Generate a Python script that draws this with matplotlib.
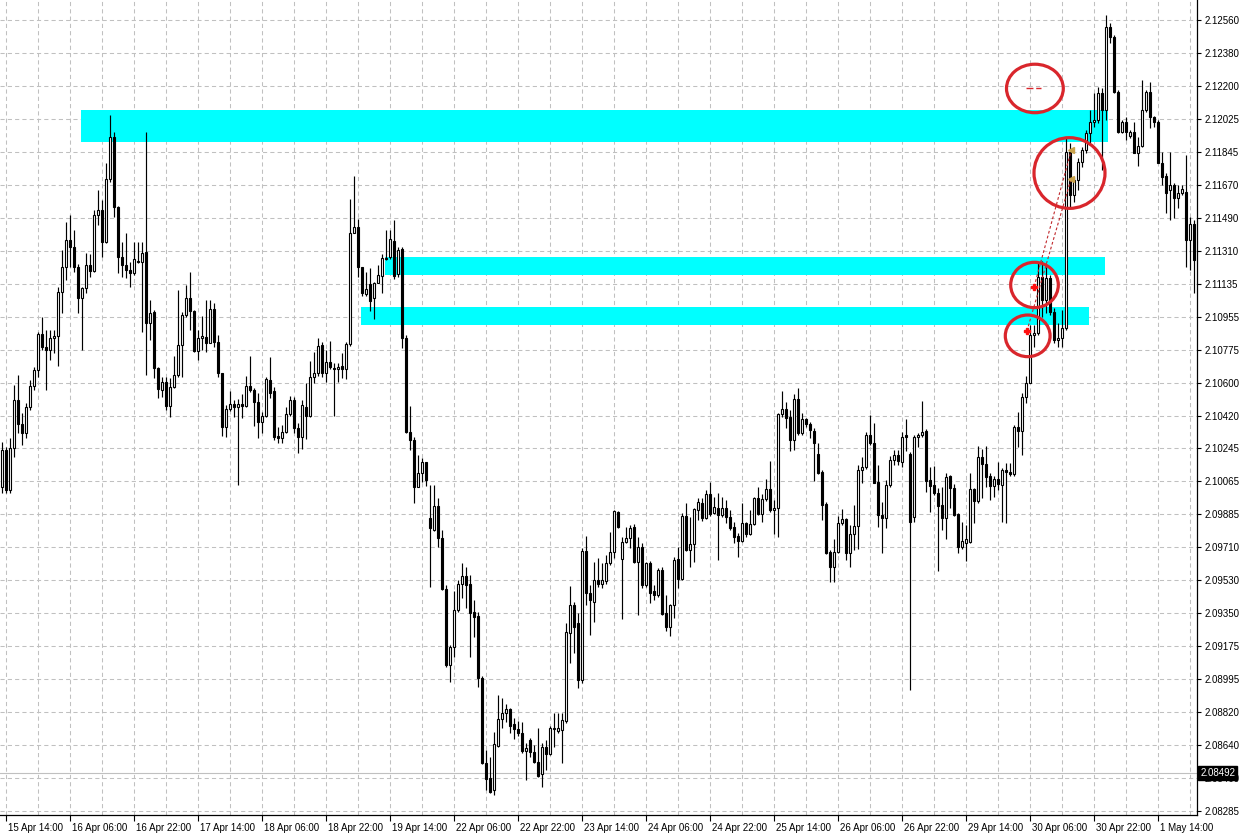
import numpy as np
import matplotlib
matplotlib.use('Agg')
import matplotlib.pyplot as plt
from matplotlib.patches import Rectangle, Ellipse
import matplotlib.transforms as mtransforms

# ---------------- data (H1 candles) ----------------
opens = [
2.10038,2.10236,2.10020,2.10245,2.10507,2.10377,2.10330,2.10467,2.10582,2.10669,
2.10863,2.10795,2.10777,2.10840,2.10854,2.11089,2.11224,2.11371,2.11335,2.11224,
2.11056,2.11110,2.11234,2.11206,2.11506,2.11533,2.11362,2.11699,2.11926,2.11552,
2.11278,2.11236,2.11209,2.11195,2.11260,2.11254,2.11305,2.10925,2.10984,2.10678,
2.10561,2.10606,2.10474,2.10579,2.10642,2.10804,2.10966,2.11060,2.10988,2.10773,
2.10840,2.10848,2.10816,2.10996,2.10821,2.10650,2.10358,2.10456,2.10483,2.10466,
2.10483,2.10475,2.10582,2.10560,2.10494,2.10389,2.10422,2.10614,2.10555,2.10311,
2.10302,2.10335,2.10429,2.10506,2.10353,2.10308,2.10466,2.10420,2.10629,2.10650,
2.10803,2.10654,2.10710,2.10679,2.10672,2.10690,2.10675,2.10807,2.11407,2.11443,
2.11223,2.11079,2.11131,2.11055,2.11140,2.11176,2.11275,2.11277,2.11365,2.11187,
2.11320,2.10840,2.10335,2.10290,2.10038,2.10114,2.10170,2.09867,2.09804,2.09934,
2.09759,2.09483,2.09074,2.09173,2.09372,2.09512,2.09555,2.09512,2.09363,2.09339,
2.09002,2.08543,2.08462,2.08399,2.08637,2.08781,2.08813,2.08835,2.08755,2.08727,
2.08705,2.08611,2.08669,2.08606,2.08552,2.08485,2.08629,2.08593,2.08728,2.08719,
2.08723,2.08773,2.09245,2.09398,2.09299,2.08993,2.09692,2.09461,2.09416,2.09533,
2.09512,2.09530,2.09627,2.09686,2.09901,2.09645,2.09737,2.09758,2.09821,2.09632,
2.09713,2.09506,2.09627,2.09476,2.09452,2.09587,2.09353,2.09278,2.09397,2.09645,
2.09537,2.09879,2.09696,2.09728,2.09912,2.09948,2.09867,2.09997,2.09897,2.09921,
2.09885,2.09924,2.09876,2.09821,2.09771,2.09746,2.09843,2.09782,2.09836,2.09975,
2.09890,2.09970,2.10024,2.09912,2.09921,2.10431,2.10456,2.10413,2.10290,2.10510,
2.10326,2.10402,2.10375,2.10340,2.10214,2.10119,2.09944,2.09686,2.09602,2.09686,
2.09839,2.09861,2.09681,2.09782,2.09825,2.10128,2.10142,2.10317,2.10272,2.10065,
2.09884,2.09866,2.10047,2.10182,2.10209,2.10173,2.10317,2.10214,2.09872,2.10308,
2.10317,2.10340,2.10074,2.10047,2.10002,2.09939,2.09866,2.10095,2.10029,2.09890,
2.09710,2.09735,2.09740,2.10023,2.09962,2.10196,2.10160,2.10095,2.10041,2.10077,
2.10047,2.10128,2.10119,2.10106,2.10362,2.10341,2.10521,2.10600,2.10858,2.10870,
2.11173,2.11047,2.11164,2.10984,2.10831,2.10840,2.10894,2.11848,2.11614,2.11695,
2.11794,2.11857,2.11947,2.12011,2.12020,2.12164,2.12074,2.12524,2.12470,2.12173,
2.11957,2.12011,2.11933,2.11957,2.11843,2.11879,2.12074,2.12173,2.12034,2.12011,
2.11789,2.11717,2.11641,2.11668,2.11596,2.11627,2.11632,2.11371,2.11457]

highs = [
2.10281,2.10254,2.10299,2.10588,2.10642,2.10435,2.10489,2.10615,2.10687,2.10876,
2.10957,2.10885,2.10885,2.10885,2.11119,2.11317,2.11470,2.11506,2.11425,2.11242,
2.11119,2.11299,2.11296,2.11533,2.11642,2.11588,2.11786,2.12047,2.11957,2.11557,
2.11362,2.11407,2.11254,2.11362,2.11362,2.11362,2.11957,2.11047,2.10993,2.10683,
2.10633,2.10633,2.10624,2.10745,2.11101,2.10984,2.11128,2.11200,2.10993,2.10885,
2.10960,2.11046,2.11046,2.11032,2.10857,2.10650,2.10479,2.10557,2.10506,2.10513,
2.10538,2.10636,2.10744,2.10569,2.10542,2.10443,2.10632,2.10740,2.10578,2.10362,
2.10371,2.10470,2.10528,2.10521,2.10380,2.10506,2.10600,2.10717,2.10767,2.10839,
2.10821,2.10776,2.10827,2.10708,2.10704,2.10758,2.10818,2.11592,2.11717,2.11482,
2.11223,2.11200,2.11218,2.11146,2.11236,2.11295,2.11425,2.11425,2.11479,2.11335,
2.11335,2.10858,2.10474,2.10308,2.10209,2.10191,2.10173,2.10047,2.10047,2.09975,
2.09804,2.09507,2.09182,2.09474,2.09534,2.09624,2.09606,2.09561,2.09426,2.09363,
2.09015,2.08615,2.08579,2.08714,2.08912,2.08894,2.08862,2.08840,2.08786,2.08774,
2.08768,2.08651,2.08678,2.08642,2.08732,2.08651,2.08669,2.08745,2.08817,2.08813,
2.08817,2.09299,2.09501,2.09416,2.09353,2.09705,2.09771,2.09506,2.09632,2.09650,
2.09623,2.09668,2.09794,2.09911,2.09904,2.09767,2.09821,2.09830,2.09836,2.09767,
2.09731,2.09632,2.09636,2.09506,2.09596,2.09602,2.09452,2.09402,2.09660,2.09714,
2.09897,2.09948,2.09876,2.09924,2.09975,2.09975,2.10020,2.10065,2.09984,2.10002,
2.09980,2.09966,2.09912,2.09849,2.09786,2.09951,2.09849,2.09912,2.09984,2.10038,
2.09997,2.10078,2.10177,2.09966,2.10434,2.10555,2.10494,2.10452,2.10539,2.10569,
2.10434,2.10407,2.10389,2.10353,2.10272,2.10128,2.09957,2.09695,2.09753,2.09879,
2.09915,2.09866,2.09830,2.09939,2.10155,2.10200,2.10335,2.10425,2.10380,2.10155,
2.09957,2.10074,2.10204,2.10236,2.10236,2.10335,2.10402,2.10227,2.10317,2.10330,
2.10502,2.10347,2.10142,2.10149,2.10029,2.10038,2.10110,2.10101,2.10052,2.09893,
2.09848,2.09830,2.10113,2.10029,2.10258,2.10239,2.10258,2.10113,2.10095,2.10173,
2.10137,2.10164,2.10164,2.10371,2.10443,2.10542,2.10636,2.10912,2.10912,2.11245,
2.11259,2.11227,2.11182,2.11002,2.10921,2.10993,2.11920,2.11893,2.11713,2.11812,
2.11875,2.11966,2.12074,2.12164,2.12200,2.12191,2.12587,2.12542,2.12479,2.12182,
2.12020,2.12034,2.11966,2.12011,2.11929,2.12236,2.12182,2.12227,2.12041,2.12020,
2.11848,2.11731,2.11848,2.11677,2.11668,2.11668,2.11830,2.11497,2.11479]

lows = [
2.10002,2.10002,2.10002,2.10200,2.10326,2.10263,2.10299,2.10453,2.10561,2.10633,
2.10777,2.10561,2.10723,2.10759,2.10690,2.10975,2.11155,2.11227,2.11200,2.10979,
2.10777,2.11087,2.11173,2.11200,2.11452,2.11278,2.11353,2.11687,2.11497,2.11191,
2.11173,2.11164,2.11119,2.11182,2.11249,2.10876,2.10642,2.10831,2.10624,2.10516,
2.10525,2.10453,2.10417,2.10570,2.10633,2.10633,2.10957,2.10885,2.10768,2.10723,
2.10776,2.10767,2.10812,2.10794,2.10632,2.10311,2.10308,2.10448,2.10412,2.10047,
2.10407,2.10466,2.10551,2.10366,2.10299,2.10330,2.10412,2.10515,2.10290,2.10275,
2.10272,2.10326,2.10420,2.10326,2.10222,2.10240,2.10294,2.10412,2.10596,2.10636,
2.10629,2.10605,2.10672,2.10420,2.10605,2.10623,2.10618,2.10798,2.11407,2.11169,
2.11068,2.11068,2.10989,2.10946,2.11137,2.11086,2.11263,2.11266,2.11158,2.11173,
2.10786,2.10326,2.10236,2.09952,2.10035,2.10065,2.10042,2.09498,2.09800,2.09714,
2.09480,2.09065,2.08984,2.09119,2.09363,2.09435,2.09381,2.09116,2.09228,2.08957,
2.08539,2.08399,2.08384,2.08372,2.08633,2.08732,2.08768,2.08705,2.08673,2.08691,
2.08597,2.08453,2.08579,2.08543,2.08471,2.08413,2.08507,2.08588,2.08633,2.08705,
2.08543,2.08759,2.09083,2.09137,2.08948,2.08975,2.09398,2.09236,2.09308,2.09497,
2.09488,2.09512,2.09614,2.09650,2.09812,2.09321,2.09731,2.09704,2.09627,2.09344,
2.09488,2.09497,2.09411,2.09425,2.09443,2.09344,2.09259,2.09231,2.09326,2.09488,
2.09533,2.09692,2.09606,2.09632,2.09858,2.09854,2.09861,2.09879,2.09890,2.09642,
2.09872,2.09840,2.09804,2.09732,2.09660,2.09741,2.09764,2.09777,2.09831,2.09885,
2.09849,2.09962,2.09903,2.09782,2.09768,2.10416,2.10353,2.10232,2.10236,2.10317,
2.10317,2.10362,2.10299,2.10070,2.10106,2.09857,2.09674,2.09524,2.09524,2.09677,
2.09830,2.09641,2.09605,2.09695,2.09699,2.10059,2.10131,2.10263,2.10056,2.09818,
2.09677,2.09812,2.10038,2.10155,2.10155,2.10146,2.10232,2.08939,2.09848,2.10250,
2.10308,2.10011,2.09903,2.09993,2.09584,2.09803,2.09753,2.09921,2.09879,2.09677,
2.09699,2.09638,2.09735,2.09839,2.09951,2.09975,2.10034,2.09966,2.09984,2.10020,
2.09848,2.09840,2.10096,2.10096,2.10254,2.10209,2.10488,2.10596,2.10791,2.10858,
2.10957,2.10975,2.10966,2.10813,2.10795,2.10795,2.10885,2.11551,2.11578,2.11641,
2.11767,2.11839,2.11893,2.11984,2.12002,2.11749,2.12020,2.12434,2.12164,2.11951,
2.11947,2.11911,2.11920,2.11839,2.11771,2.11875,2.12065,2.11975,2.11984,2.11785,
2.11668,2.11515,2.11479,2.11488,2.11542,2.11614,2.11227,2.11209,2.11083]

closes = [
2.10236,2.10020,2.10245,2.10507,2.10377,2.10330,2.10467,2.10582,2.10669,2.10863,
2.10795,2.10777,2.10840,2.10854,2.11089,2.11224,2.11371,2.11335,2.11224,2.11060,
2.11110,2.11234,2.11206,2.11506,2.11533,2.11362,2.11699,2.11926,2.11552,2.11278,
2.11236,2.11209,2.11195,2.11267,2.11254,2.11299,2.10925,2.10975,2.10678,2.10564,
2.10606,2.10474,2.10579,2.10642,2.10804,2.10966,2.11060,2.10988,2.10773,2.10840,
2.10852,2.10816,2.10996,2.10821,2.10650,2.10358,2.10456,2.10483,2.10466,2.10483,
2.10475,2.10582,2.10560,2.10494,2.10389,2.10422,2.10620,2.10542,2.10308,2.10302,
2.10335,2.10429,2.10506,2.10353,2.10308,2.10477,2.10420,2.10629,2.10650,2.10798,
2.10654,2.10710,2.10683,2.10672,2.10686,2.10675,2.10807,2.11407,2.11443,2.11227,
2.11086,2.11104,2.11041,2.11140,2.11180,2.11272,2.11266,2.11374,2.11176,2.11317,
2.10840,2.10335,2.10290,2.10038,2.10114,2.10170,2.10074,2.09817,2.09934,2.09759,
2.09483,2.09074,2.09173,2.09372,2.09512,2.09555,2.09507,2.09357,2.09336,2.09002,
2.08543,2.08456,2.08390,2.08646,2.08781,2.08813,2.08835,2.08745,2.08727,2.08705,
2.08611,2.08624,2.08606,2.08552,2.08475,2.08629,2.08593,2.08736,2.08736,2.08732,
2.08777,2.09251,2.09398,2.09281,2.08993,2.09692,2.09461,2.09425,2.09533,2.09512,
2.09533,2.09627,2.09686,2.09906,2.09821,2.09737,2.09758,2.09816,2.09632,2.09713,
2.09506,2.09627,2.09461,2.09452,2.09587,2.09350,2.09281,2.09397,2.09642,2.09537,
2.09879,2.09696,2.09728,2.09915,2.09955,2.09867,2.09997,2.09890,2.09930,2.09885,
2.09921,2.09872,2.09816,2.09768,2.09746,2.09840,2.09782,2.09836,2.09975,2.09890,
2.09970,2.10024,2.09912,2.09921,2.10431,2.10456,2.10407,2.10290,2.10510,2.10326,
2.10402,2.10375,2.10344,2.10272,2.10113,2.09939,2.09681,2.09602,2.09686,2.09843,
2.09861,2.09681,2.09782,2.09825,2.10128,2.10142,2.10317,2.10272,2.10059,2.09884,
2.09866,2.10047,2.10182,2.10209,2.10178,2.10304,2.10304,2.09848,2.10304,2.10317,
2.10335,2.10070,2.10041,2.10002,2.09933,2.09866,2.10092,2.10029,2.09884,2.09710,
2.09746,2.09753,2.10023,2.09962,2.10196,2.10160,2.10092,2.10041,2.10077,2.10052,
2.10128,2.10119,2.10106,2.10362,2.10341,2.10524,2.10600,2.10858,2.10870,2.11173,
2.11047,2.11164,2.10984,2.10831,2.10840,2.10894,2.11848,2.11614,2.11695,2.11794,
2.11857,2.11947,2.12011,2.12020,2.12164,2.12074,2.12524,2.12470,2.12173,2.11957,
2.12011,2.11957,2.11957,2.11843,2.11879,2.12074,2.12173,2.12034,2.12011,2.11789,
2.11713,2.11627,2.11668,2.11596,2.11627,2.11645,2.11371,2.11457,2.11263]

time_labels = ['15 Apr 14:00', '16 Apr 06:00', '16 Apr 22:00', '17 Apr 14:00',
               '18 Apr 06:00', '18 Apr 22:00', '19 Apr 14:00', '22 Apr 06:00',
               '22 Apr 22:00', '23 Apr 14:00', '24 Apr 06:00', '24 Apr 22:00',
               '25 Apr 14:00', '26 Apr 06:00', '26 Apr 22:00', '29 Apr 14:00',
               '30 Apr 06:00', '30 Apr 22:00', '1 May 14:00']

price_labels = ['2.08285', '2.08460', '2.08640', '2.08820', '2.08995', '2.09175',
                '2.09350', '2.09530', '2.09710', '2.09885', '2.10065', '2.10245',
                '2.10420', '2.10600', '2.10775', '2.10955', '2.11135', '2.11310',
                '2.11490', '2.11670', '2.11845', '2.12025', '2.12200', '2.12380',
                '2.12560']
price_min, price_max = 2.08285, 2.12560

bid_price = 2.08492

# supply / demand zones
zone_start = [19.8, 95.8, 89.8]
zone_end = [276.6, 275.75, 271.75]
zone_low = [2.11898, 2.11184, 2.10913]
zone_high = [2.12074, 2.11278, 2.11009]

# red ellipse annotations
ell_x = [258.3, 266.95, 258.2, 256.5]
ell_y = [2.12190, 2.11733, 2.11128, 2.10853]
ell_w = [14.2, 17.75, 11.9, 11.2]
ell_h = [0.00262, 0.00382, 0.00245, 0.00225]

# trades (entry -> exit)
entry_bar = [258.1, 256.3]
entry_price = [2.11119, 2.10879]
exit_bar = [267.4, 267.3]
exit_price = [2.11857, 2.11699]

# pending order level
pend_bar = [256.0, 259.8]
pend_price = 2.12192

# ---------------- figure ----------------
W, H = 1242, 835
fig = plt.figure(figsize=(W / 100, H / 100), dpi=100)
fig.patch.set_facecolor('white')
ax = fig.add_axes([0, 20 / H, 1197.3 / W, 815 / H])
ax.set_facecolor('white')

n = len(closes)
x = np.arange(n)
o = np.array(opens)
h = np.array(highs)
l = np.array(lows)
c = np.array(closes)

ax.set_xlim(-0.425, 298.9)
ax.set_ylim(2.082634, 2.126681)

# grid
ytick_vals = np.linspace(price_min, price_max, len(price_labels))
grid_kw = dict(color='#c0c0c0', lw=0.75, ls=(0, (4, 3)), zorder=0.5)
for yv in ytick_vals:
    ax.axhline(yv, **grid_kw)
for xv in np.arange(1, n, 8):
    ax.axvline(xv, **grid_kw)

# bid line
ax.axhline(bid_price, color='#c0c0c0', lw=0.8, zorder=0.8)

# zones
for xs, xe, lo, hi in zip(zone_start, zone_end, zone_low, zone_high):
    ax.add_patch(Rectangle((xs, lo), xe - xs, hi - lo, facecolor='#00ffff',
                           edgecolor='none', zorder=1))

# candles
ax.vlines(x, l, h, color='black', lw=0.85, zorder=3)
bull = c >= o
body_bottom = np.minimum(o, c)
body_h = np.abs(c - o)
ax.bar(x, body_h, bottom=body_bottom, width=0.5,
       color=np.where(bull, 'white', 'black'), edgecolor='black',
       linewidth=0.8, zorder=4)

# trade lines & markers
red = '#d9262c'
for xb, pb, xe, pe in zip(entry_bar, entry_price, exit_bar, exit_price):
    ax.plot([xb, xe], [pb, pe], color='#c0282c', lw=0.8, ls=(0, (2.5, 2)), zorder=5)
ax.plot(entry_bar, entry_price, ls='none', marker='P', ms=5, color='#ff1010',
        mec='#ff1010', zorder=6)
ax.plot(exit_bar, exit_price, ls='none', marker='<', ms=5, color='#c9a24a',
        mec='#c9a24a', zorder=6)
ax.plot(pend_bar, [pend_price, pend_price], color=red, lw=1.0,
        ls=(0, (5, 2)), zorder=5)

# ellipses
for ex, ey, ew, eh in zip(ell_x, ell_y, ell_w, ell_h):
    ax.add_patch(Ellipse((ex, ey), ew, eh, fill=False, edgecolor=red, lw=2.3,
                         zorder=7))

# axes styling
for side in ['top', 'left']:
    ax.spines[side].set_visible(False)
for side in ['right', 'bottom']:
    ax.spines[side].set_color('black')
    ax.spines[side].set_linewidth(0.9)

font = 'Liberation Sans'
ax.yaxis.tick_right()
ax.set_yticks(ytick_vals)
ax.set_yticklabels(price_labels, fontsize=7, family=font, color='black')
ax.tick_params(axis='y', which='major', direction='out', length=3, width=0.8, pad=2)

xticks = np.arange(1, n, 16)[:len(time_labels)]
ax.set_xticks(xticks)
ax.set_xticklabels(time_labels, fontsize=7, family=font, color='black')
ax.tick_params(axis='x', which='major', direction='out', length=4, width=0.8, pad=1.5)
offset = mtransforms.ScaledTranslation(2 / 100, 0, fig.dpi_scale_trans)
for lab in ax.get_xticklabels():
    lab.set_horizontalalignment('left')
    lab.set_transform(lab.get_transform() + offset)

# bid price label
trans = mtransforms.blended_transform_factory(ax.transAxes, ax.transData)
ax.text(1.0, bid_price, '2.08492', transform=trans + mtransforms.ScaledTranslation(3 / 100, 0, fig.dpi_scale_trans),
        ha='left', va='center', fontsize=7, family=font, color='white',
        bbox=dict(boxstyle='square,pad=0.2', fc='black', ec='black'),
        zorder=10, clip_on=False)

fig.savefig('out.png', dpi=100, facecolor='white')
